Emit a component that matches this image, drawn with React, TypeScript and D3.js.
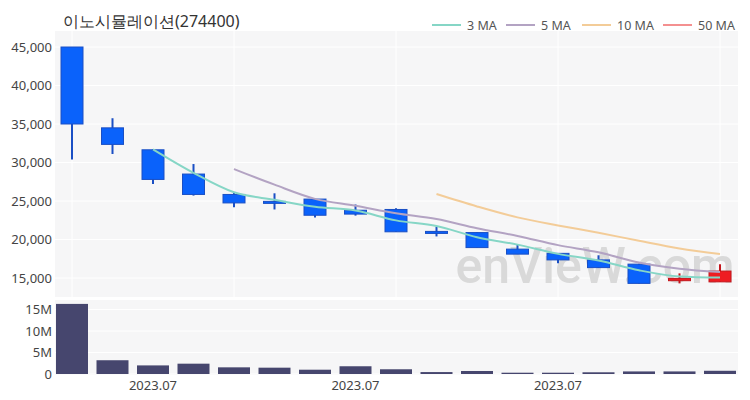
import React from "react";
import * as d3 from "d3";

const opens = [45000, 34500, 31650, 28500, 25850, 24950, 25250, 23800, 23900, 21050, 20900, 18750, 18200, 17350, 16800, 14650, 14500];
const closes = [35000, 32350, 27800, 25850, 24750, 24850, 23150, 23300, 21000, 20950, 18950, 18100, 17350, 16350, 14300, 14950, 15900];
const highs = [45000, 35750, 31700, 29800, 26100, 26000, 25300, 24550, 24050, 21650, 20950, 19300, 18250, 17950, 16850, 15600, 16800];
const lows = [30400, 31100, 27200, 25700, 24200, 23900, 22850, 23100, 21000, 20400, 18950, 18100, 16900, 16300, 14300, 14300, 14500];
const volumes = [16.3e6, 3.2e6, 2.0e6, 2.4e6, 1.55e6, 1.47e6, 1.0e6, 1.8e6, 1.1e6, 0.45e6, 0.7e6, 0.3e6, 0.3e6, 0.4e6, 0.6e6, 0.6e6, 0.75e6];
const priceTicks = [15000, 20000, 25000, 30000, 35000, 40000, 45000];
const volumeTicks = [0, 5e6, 10e6, 15e6];
const xLabelIdx = [2, 7, 12];
const xLabels = ["2023.07", "2023.07", "2023.07"];
const xGridIdx = [0, 4, 8, 12, 16];
const maPeriods = [3, 5, 10, 50];
const maColors = ["#86d6c6", "#b3a3c3", "#f3cc98", "#f49090"];
const title = "이노시뮬레이션(274400)";

const FONT = "'Noto Sans', sans-serif";

function movingAverage(period: number): [number, number][] {
  const out: [number, number][] = [];
  for (let i = period - 1; i < closes.length; i++) {
    out.push([i, d3.mean(closes.slice(i - period + 1, i + 1)) as number]);
  }
  return out;
}

export default function App() {
  const W = 750, H = 400;
  const pL = 55, pR = 738;
  const mTop = 31, mBot = 297;
  const vTop = 300, vBot = 375;

  const x = d3.scaleLinear().domain([0, 16]).range([72, 720]);
  const y = d3.scaleLinear().domain([15000, 45000]).range([278, 47]);
  const yv = d3.scaleLinear().domain([0, 15e6]).range([374, 309.5]);

  const bodyW = 22;
  const volW = 32;
  const blue = "#0a62fb";
  const blueStroke = "#1a4fc4";
  const red = "#ee1c22";
  const redStroke = "#c4161c";

  const line = d3
    .line<[number, number]>()
    .x((d) => x(d[0]))
    .y((d) => y(d[1]))
    .curve(d3.curveMonotoneX);

  const legendX = [432, 506, 582, 663];

  return (
    <svg width={W} height={H} style={{ display: "block", position: "absolute", left: 0, top: 0 }} fontFamily={FONT}>
      <defs>
        <clipPath id="mainClip">
          <rect x={pL} y={mTop} width={pR - pL} height={mBot - mTop} />
        </clipPath>
      </defs>
      <rect x={0} y={0} width={W} height={H} fill="#ffffff" />
      <text x={63} y={27} fontSize={16} fill="#333">{title}</text>

      {maPeriods.map((p, i) => (
        <g key={p}>
          <line x1={legendX[i]} x2={legendX[i] + 29} y1={25} y2={25} stroke={maColors[i]} strokeWidth={2} />
          <text x={legendX[i] + 35} y={29.5} fontSize={12.5} fill="#555">{`${p} MA`}</text>
        </g>
      ))}

      {/* main panel */}
      <rect x={pL} y={mTop} width={pR - pL} height={mBot - mTop} fill="#f6f6f7" />
      {priceTicks.map((t) => (
        <line key={t} x1={pL} x2={pR} y1={y(t)} y2={y(t)} stroke="#ffffff" strokeWidth={1} />
      ))}
      {xGridIdx.map((i) => (
        <line key={i} x1={x(i)} x2={x(i)} y1={mTop} y2={mBot} stroke="#ffffff" strokeWidth={1} />
      ))}
      {priceTicks.map((t) => (
        <text key={t} x={52} y={y(t) + 4.5} fontSize={13} fill="#444" textAnchor="end">
          {d3.format(",")(t)}
        </text>
      ))}

      <text x={595} y={283} fontSize={50} fontWeight={500} fill="#d9d9d9" textAnchor="middle" fontFamily="Roboto, 'DejaVu Sans', sans-serif">
        enVieW.com
      </text>

      <g clipPath="url(#mainClip)">
        {closes.map((c, i) => {
          const o = opens[i];
          const up = c > o;
          const fill = up ? red : blue;
          const stroke = up ? redStroke : blueStroke;
          const top = y(Math.max(o, c));
          const bot = y(Math.min(o, c));
          const h = Math.max(bot - top, 2);
          return (
            <g key={i}>
              <line x1={x(i)} x2={x(i)} y1={y(highs[i])} y2={y(lows[i])} stroke={stroke} strokeWidth={2} />
              <rect x={x(i) - bodyW / 2} y={top} width={bodyW} height={h} fill={fill} stroke={stroke} strokeWidth={1} />
            </g>
          );
        })}
        {maPeriods.map((p, i) => {
          const data = movingAverage(p);
          if (data.length < 2) return null;
          return <path key={p} d={line(data) || ""} fill="none" stroke={maColors[i]} strokeWidth={2} />;
        })}
      </g>

      {/* volume panel */}
      <rect x={pL} y={vTop} width={pR - pL} height={vBot - vTop} fill="#f6f6f7" />
      {volumeTicks.map((t) => (
        <line key={t} x1={pL} x2={pR} y1={yv(t)} y2={yv(t)} stroke="#ffffff" strokeWidth={1} />
      ))}
      {volumes.map((v, i) => (
        <rect key={i} x={x(i) - volW / 2} y={yv(v)} width={volW} height={yv(0) - yv(v)} fill="#46466e" />
      ))}
      {volumeTicks.map((t) => (
        <text key={t} x={52} y={yv(t) + 4.5} fontSize={13} fill="#444" textAnchor="end">
          {t === 0 ? "0" : `${t / 1e6}M`}
        </text>
      ))}
      {xLabelIdx.map((i, k) => (
        <text key={i} x={x(i)} y={390} fontSize={13} fill="#444" textAnchor="middle">
          {xLabels[k]}
        </text>
      ))}
    </svg>
  );
}
